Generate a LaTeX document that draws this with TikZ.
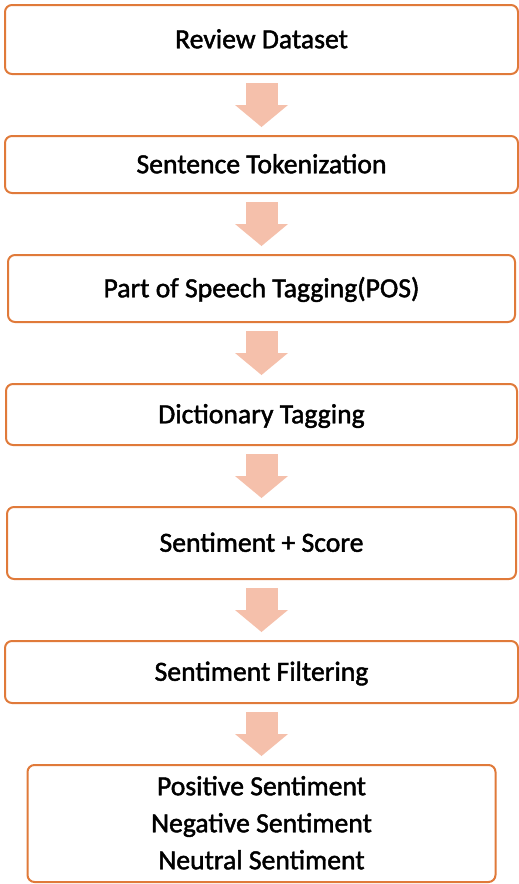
\documentclass[tikz,border=0pt]{standalone}
\usepackage{fontspec}
\setmainfont{Carlito}[FakeBold=1.6]
\usetikzlibrary{arrows.meta}

\definecolor{boxorange}{HTML}{E07A3A}
\definecolor{arrowpeach}{HTML}{F5C0AB}

\begin{document}
\begin{tikzpicture}[
  x=1pt, y=-1pt,
  font=\fontsize{27.7}{37}\selectfont,
  stepbox/.style={draw=boxorange, line width=2pt, rounded corners=7pt, fill=white,
                  align=center, text height=17.5pt, text depth=0pt, inner sep=0pt},
  flow/.style={draw=arrowpeach, line width=32pt, shorten <=8pt, shorten >=8pt,
               -{Triangle[width=53pt 0 0, length=22pt 0 0, line width=0pt 0 0]}},
]
\useasboundingbox (0,0) rectangle (519,884);
\node[stepbox, minimum width=513pt, minimum height=69pt] (review) at (261.5,39.5) {Review Dataset};
\node[stepbox, minimum width=513pt, minimum height=57pt] (token) at (261.5,164.5) {Sentence Tokenization};
\node[stepbox, minimum width=507pt, minimum height=67pt] (pos) at (261.5,288.5) {Part of Speech Tagging(POS)};
\node[stepbox, minimum width=511pt, minimum height=61pt] (dict) at (261.5,414.5) {Dictionary Tagging};
\node[stepbox, minimum width=509pt, minimum height=72pt] (score) at (261.5,543) {Sentiment + Score};
\node[stepbox, minimum width=513pt, minimum height=62pt] (filter) at (261.5,672) {Sentiment Filtering};
\node[stepbox, minimum width=468pt, minimum height=117pt, text height=91.5pt] (result) at (261.5,823.5)
  {Positive Sentiment\\Negative Sentiment\\Neutral Sentiment};

\draw[flow] (review) -- (token);
\draw[flow] (token) -- (pos);
\draw[flow] (pos) -- (dict);
\draw[flow] (dict) -- (score);
\draw[flow] (score) -- (filter);
\draw[flow] (filter) -- (result);
\end{tikzpicture}
\end{document}
